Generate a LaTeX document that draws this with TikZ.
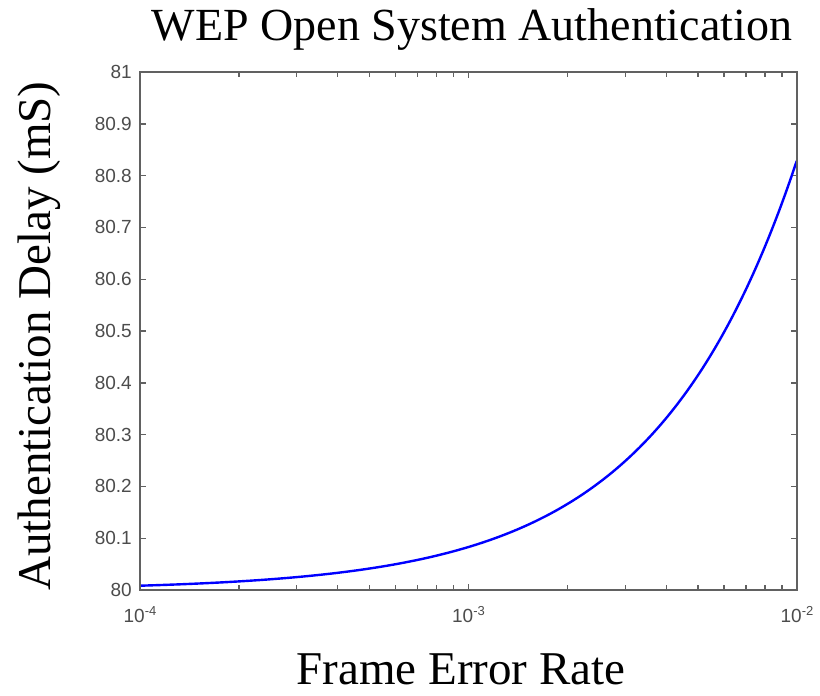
\documentclass[tikz,border=0pt]{standalone}
\usepackage{fontspec}
\setmainfont{Liberation Serif}
\newfontfamily\ticksans{Liberation Sans}
\begin{document}
\begin{tikzpicture}[x=1pt,y=-1pt,
  axisline/.style={draw=black!62,line width=1.8pt},
  tickline/.style={draw=black!62,line width=1.4pt},
  ticklab/.style={font=\ticksans\fontsize{19}{19}\selectfont,text=black!70,inner sep=0pt},
  biglab/.style={font=\fontsize{47}{47}\selectfont,inner sep=0pt},
  curve/.style={draw=blue,line width=2.4pt}]
\useasboundingbox (0,0) rectangle (820,696);
\fill[white] (0,0) rectangle (820,696);
% plot frame
\coordinate (bl) at (140,590);
\coordinate (tr) at (797,72);
% y ticks
\foreach \i in {0,...,10}{
  \pgfmathsetmacro{\yy}{590-51.8*\i}
  \draw[tickline] (140,\yy) -- (146,\yy);
  \draw[tickline] (797,\yy) -- (791,\yy);
}
\foreach \v [count=\i from 0] in {80,80.1,80.2,80.3,80.4,80.5,80.6,80.7,80.8,80.9,81}{
  \pgfmathsetmacro{\yy}{590-51.8*\i}
  \node[ticklab,anchor=east] (yl\i) at (132,\yy) {\v};
}
% x ticks (log)
\foreach \d in {0,1}{
  \foreach \m in {2,...,9}{
    \pgfmathsetmacro{\xx}{140+328.5*(\d+log10(\m))}
    \draw[tickline] (\xx,590) -- (\xx,585);
    \draw[tickline] (\xx,72) -- (\xx,77);
  }
}
\foreach \e [count=\i from 0] in {4,3,2}{
  \pgfmathsetmacro{\xx}{140+328.5*\i}
  \draw[tickline] (\xx,590) -- (\xx,584);
  \draw[tickline] (\xx,72) -- (\xx,78);
  \node[ticklab,anchor=base] (xl\i) at (\xx,622) {10\raisebox{7pt}{\fontsize{13}{13}\selectfont -\e}};
}
% curve
\draw[curve] plot[domain=0:2,samples=120,smooth] ({140+328.5*\x},{590-518*0.0083*pow(10,\x)});
% frame
\draw[axisline] (bl) rectangle (tr);
% labels
\node[biglab,anchor=base,font=\fontsize{46}{46}\selectfont] (title) at (472,40) {WEP Open System Authentication};
\node[biglab,anchor=base] (xlabel) at (461,684) {Frame Error Rate};
\node[biglab,anchor=base,rotate=90] (ylabel) at (50,336) {Authentication Delay (mS)};
\end{tikzpicture}
\end{document}
